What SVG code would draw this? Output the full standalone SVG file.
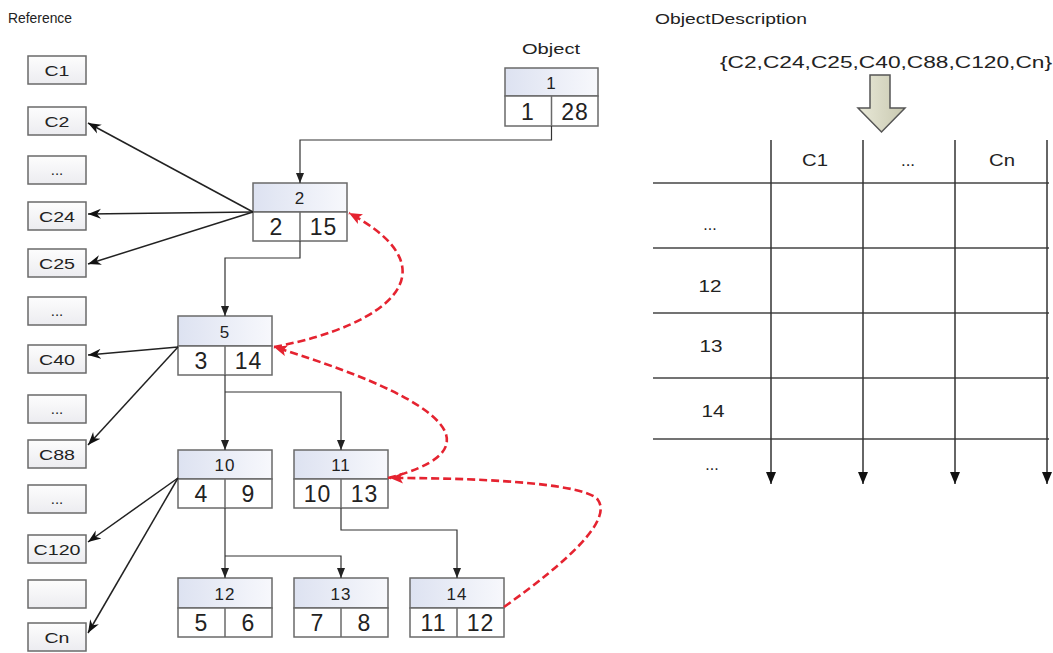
<svg xmlns="http://www.w3.org/2000/svg" width="1053" height="653" viewBox="0 0 1053 653">
<style>
text{font-family:"Liberation Sans",Arial,sans-serif;fill:#222}
.lbl{font-size:14px}
.ref rect{fill:url(#refg);stroke:#6a6a6a;stroke-width:1.5}
.ref text{font-size:15px;text-anchor:middle}
.hdr{fill:url(#hdrg);stroke:#6a6a6a;stroke-width:1.5}
.body{fill:#fff;stroke:#6a6a6a;stroke-width:1.5}
.sep{stroke:#6a6a6a;stroke-width:1.5}
.h{font-size:17px;text-anchor:middle;letter-spacing:1px}
.b{font-size:23px;text-anchor:middle;letter-spacing:1px}
.tree{fill:none;stroke:#333;stroke-width:1.2;marker-end:url(#tri)}
.refl{fill:none;stroke:#222;stroke-width:1.5;marker-end:url(#barb)}
.red{fill:none;stroke:#e52330;stroke-width:2.6;stroke-dasharray:8 4;marker-end:url(#redtri)}
.grid{stroke:#444;stroke-width:1.5}
.col{stroke:#333;stroke-width:1.5;marker-end:url(#tri2)}
.th{font-size:17px;text-anchor:middle}
.rl{font-size:16px;text-anchor:middle}
</style>
<defs>
<linearGradient id="hdrg" x1="0" y1="0" x2="1" y2="0"><stop offset="0" stop-color="#dde2f1"/><stop offset="1" stop-color="#f7f8fc"/></linearGradient>
<linearGradient id="refg" x1="0" y1="0" x2="0" y2="1"><stop offset="0" stop-color="#fdfdfd"/><stop offset="1" stop-color="#ececf0"/></linearGradient>
<linearGradient id="arrg" x1="0" y1="0" x2="1" y2="0"><stop offset="0" stop-color="#e9e9d8"/><stop offset="1" stop-color="#c8c8b0"/></linearGradient>
<marker id="tri" markerUnits="userSpaceOnUse" markerWidth="10" markerHeight="10" viewBox="0 0 10 10" refX="10" refY="5" orient="auto"><path d="M0,1 L10,5 L0,9 z" fill="#222"/></marker>
<marker id="tri2" markerUnits="userSpaceOnUse" markerWidth="12" markerHeight="12" viewBox="0 0 12 12" refX="12" refY="6" orient="auto"><path d="M0,1 L12,6 L0,11 z" fill="#111"/></marker>
<marker id="barb" markerUnits="userSpaceOnUse" markerWidth="14" markerHeight="12" viewBox="0 0 14 12" refX="13" refY="6" orient="auto"><path d="M0,1 L13,6 L0,11 L4,6 z" fill="#111"/></marker>
<marker id="redtri" markerUnits="userSpaceOnUse" markerWidth="14" markerHeight="12" viewBox="0 0 14 12" refX="13" refY="6" orient="auto"><path d="M0,0.5 L13,6 L0,11.5 L3,6 z" fill="#e52330"/></marker>
</defs>
<rect width="1053" height="653" fill="#fff"/>

<text class="lbl" x="8" y="23" textLength="64" lengthAdjust="spacingAndGlyphs">Reference</text>
<text class="lbl" x="522" y="54" textLength="58" lengthAdjust="spacingAndGlyphs">Object</text>
<text class="lbl" x="655" y="24" textLength="152" lengthAdjust="spacingAndGlyphs">ObjectDescription</text>

<g id="references" class="ref">
<g id="ref-C1"><rect x="28" y="56" width="58" height="28"/><text x="57" y="76" textLength="25" lengthAdjust="spacingAndGlyphs">C1</text></g>
<g id="ref-C2"><rect x="28" y="107" width="58" height="28"/><text x="57" y="127" textLength="25" lengthAdjust="spacingAndGlyphs">C2</text></g>
<g id="ref-dots1"><rect x="28" y="156" width="58" height="28"/><text x="57" y="175" fill="#999" font-size="12">...</text></g>
<g id="ref-C24"><rect x="28" y="202" width="58" height="28"/><text x="57" y="222" textLength="36" lengthAdjust="spacingAndGlyphs">C24</text></g>
<g id="ref-C25"><rect x="28" y="249" width="58" height="28"/><text x="57" y="269" textLength="36" lengthAdjust="spacingAndGlyphs">C25</text></g>
<g id="ref-dots2"><rect x="28" y="297" width="58" height="28"/><text x="57" y="316" fill="#999" font-size="12">...</text></g>
<g id="ref-C40"><rect x="28" y="345" width="58" height="28"/><text x="57" y="365" textLength="36" lengthAdjust="spacingAndGlyphs">C40</text></g>
<g id="ref-dots3"><rect x="28" y="395" width="58" height="28"/><text x="57" y="414" fill="#999" font-size="12">...</text></g>
<g id="ref-C88"><rect x="28" y="440" width="58" height="28"/><text x="57" y="460" textLength="36" lengthAdjust="spacingAndGlyphs">C88</text></g>
<g id="ref-dots4"><rect x="28" y="485" width="58" height="28"/><text x="57" y="504" fill="#999" font-size="12">...</text></g>
<g id="ref-C120"><rect x="28" y="535" width="58" height="28"/><text x="57" y="555" textLength="47" lengthAdjust="spacingAndGlyphs">C120</text></g>
<g id="ref-blank"><rect x="28" y="580" width="58" height="28"/></g>
<g id="ref-Cn"><rect x="28" y="623" width="58" height="28"/><text x="57" y="643" textLength="25" lengthAdjust="spacingAndGlyphs">Cn</text></g>
</g>

<g id="node-1"><rect class="hdr" x="505" y="68" width="93" height="28"/><rect class="body" x="505" y="96" width="93" height="30"/><line class="sep" x1="551.5" y1="96" x2="551.5" y2="126"/><text class="h" x="551.5" y="89">1</text><text class="b" x="528" y="120">1</text><text class="b" x="575" y="120">28</text></g>
<g id="node-2"><rect class="hdr" x="253" y="183" width="94" height="29"/><rect class="body" x="253" y="212" width="94" height="29"/><line class="sep" x1="300" y1="212" x2="300" y2="241"/><text class="h" x="300" y="204">2</text><text class="b" x="276.5" y="235">2</text><text class="b" x="323.5" y="235">15</text></g>
<g id="node-5"><rect class="hdr" x="178" y="316" width="94" height="30"/><rect class="body" x="178" y="346" width="94" height="29"/><line class="sep" x1="225" y1="346" x2="225" y2="375"/><text class="h" x="225" y="338">5</text><text class="b" x="201.5" y="369">3</text><text class="b" x="248.5" y="369">14</text></g>
<g id="node-10"><rect class="hdr" x="178" y="450" width="94" height="29"/><rect class="body" x="178" y="479" width="94" height="29"/><line class="sep" x1="225" y1="479" x2="225" y2="508"/><text class="h" x="225" y="471">10</text><text class="b" x="201.5" y="502">4</text><text class="b" x="248.5" y="502">9</text></g>
<g id="node-11"><rect class="hdr" x="294" y="450" width="94" height="29"/><rect class="body" x="294" y="479" width="94" height="29"/><line class="sep" x1="341" y1="479" x2="341" y2="508"/><text class="h" x="341" y="471">11</text><text class="b" x="317.5" y="502">10</text><text class="b" x="364.5" y="502">13</text></g>
<g id="node-12"><rect class="hdr" x="178" y="578" width="94" height="30"/><rect class="body" x="178" y="608" width="94" height="29"/><line class="sep" x1="225" y1="608" x2="225" y2="637"/><text class="h" x="225" y="600">12</text><text class="b" x="201.5" y="631">5</text><text class="b" x="248.5" y="631">6</text></g>
<g id="node-13"><rect class="hdr" x="294" y="578" width="94" height="30"/><rect class="body" x="294" y="608" width="94" height="29"/><line class="sep" x1="341" y1="608" x2="341" y2="637"/><text class="h" x="341" y="600">13</text><text class="b" x="317.5" y="631">7</text><text class="b" x="364.5" y="631">8</text></g>
<g id="node-14"><rect class="hdr" x="410" y="578" width="94" height="30"/><rect class="body" x="410" y="608" width="94" height="29"/><line class="sep" x1="457" y1="608" x2="457" y2="637"/><text class="h" x="457" y="600">14</text><text class="b" x="433.5" y="631">11</text><text class="b" x="480.5" y="631">12</text></g>

<g id="connectors">
<path class="tree" d="M551.5 126 V140 H300 V183"/>
<path class="tree" d="M300 241 V258 H225 V316"/>
<path class="tree" d="M225 375 V450"/>
<path class="tree" d="M225 392 H341 V450"/>
<path class="tree" d="M225 508 V578"/>
<path class="tree" d="M225 556 H341 V578"/>
<path class="tree" d="M341 508 V530 H457 V578"/>
<line class="refl" x1="253" y1="212" x2="88" y2="123"/>
<line class="refl" x1="253" y1="212" x2="88" y2="214"/>
<line class="refl" x1="253" y1="212" x2="88" y2="264"/>
<line class="refl" x1="178" y1="347" x2="88" y2="355"/>
<line class="refl" x1="178" y1="347" x2="88" y2="445"/>
<line class="refl" x1="178" y1="478" x2="88" y2="542"/>
<line class="refl" x1="178" y1="478" x2="88" y2="633"/>
<path class="red" d="M274 347 C390 325 455 270 349 213"/>
<path class="red" d="M388 478 C480 455 480 410 274 347"/>
<path class="red" d="M504 607 C570 560 612 520 598 500 C588 485 500 478 390 478"/>
</g>

<g id="description">
<text x="720" y="68" font-size="17" textLength="332" lengthAdjust="spacingAndGlyphs">{C2,C24,C25,C40,C88,C120,Cn}</text>
<path d="M870 75 H890 V108 H905 L881.5 132 L858 108 H870 Z" fill="url(#arrg)" stroke="#555" stroke-width="1.5"/>
</g>

<g id="table">
<line class="grid" x1="653" y1="183" x2="1049" y2="183"/>
<line class="grid" x1="653" y1="248" x2="1049" y2="248"/>
<line class="grid" x1="653" y1="313" x2="1049" y2="313"/>
<line class="grid" x1="653" y1="378" x2="1049" y2="378"/>
<line class="grid" x1="653" y1="439" x2="1049" y2="439"/>
<line class="col" x1="771" y1="140" x2="771" y2="484"/>
<line class="col" x1="863" y1="140" x2="863" y2="484"/>
<line class="col" x1="955" y1="140" x2="955" y2="484"/>
<line class="col" x1="1047" y1="140" x2="1047" y2="484"/>
<text class="th" x="815" y="166" textLength="26" lengthAdjust="spacingAndGlyphs">C1</text>
<text class="th" x="908" y="166">...</text>
<text class="th" x="1002" y="166" textLength="26" lengthAdjust="spacingAndGlyphs">Cn</text>
<text class="rl" x="710" y="230">...</text>
<text class="rl" x="710" y="292" textLength="23" lengthAdjust="spacingAndGlyphs">12</text>
<text class="rl" x="711" y="352" textLength="23" lengthAdjust="spacingAndGlyphs">13</text>
<text class="rl" x="713" y="417" textLength="23" lengthAdjust="spacingAndGlyphs">14</text>
<text class="rl" x="712" y="470">...</text>
</g>
</svg>
